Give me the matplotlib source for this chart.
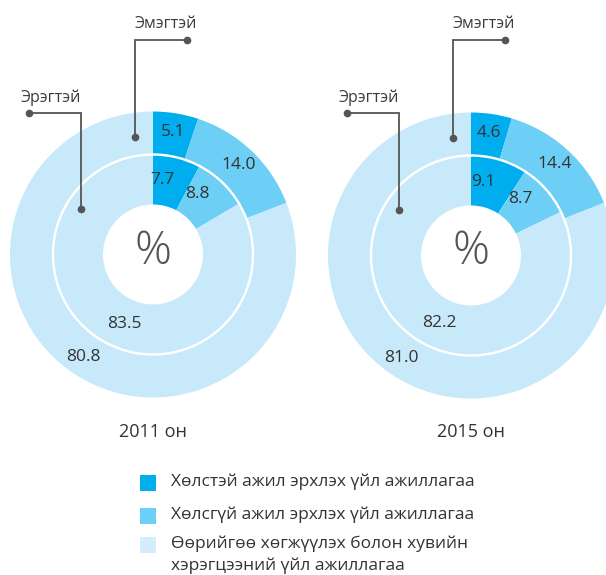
import matplotlib
matplotlib.use("Agg")
import matplotlib.pyplot as plt
from matplotlib.patches import Rectangle
import numpy as np

plt.rcParams['font.family'] = ['Open Sans', 'DejaVu Sans']

# Data
years = ["2011 он", "2015 он"]
female_2011 = [5.1, 14.0, 80.8]   # outer ring (Эмэгтэй)
male_2011 = [7.7, 8.8, 83.5]      # inner ring (Эрэгтэй)
female_2015 = [4.6, 14.4, 81.0]
male_2015 = [9.1, 8.7, 82.2]
ring_names = ["Эмэгтэй", "Эрэгтэй"]
categories = [
    "Хөлстэй ажил эрхлэх үйл ажиллагаа",
    "Хөлсгүй ажил эрхлэх үйл ажиллагаа",
    "Өөрийгөө хөгжүүлэх болон хувийн\nхэрэгцээний үйл ажиллагаа",
]

colors = ["#00aeef", "#6dcff6", "#c8e9f9"]
legend_colors = ["#00aeef", "#6dcff6", "#d4edfa"]
text_col = "#333333"
line_col = "#555555"

W, H = 606, 575
fig = plt.figure(figsize=(W / 100, H / 100), dpi=100)
ax = fig.add_axes([0, 0, 1, 1])


def py(y):
    """convert a top-down pixel row to the upward axes coordinate"""
    return H - y


R_OUT, R_SEP, R_HOLE = 143, 100, 50
donuts = [
    dict(center=(153, py(254.5)), outer=female_2011, inner=male_2011, title=years[0]),
    dict(center=(471, py(255.5)), outer=female_2015, inner=male_2015, title=years[1]),
]


def label_ring(wedges, values, cx, cy, r, shift=0.0):
    for w, v in zip(wedges, values):
        ang = np.deg2rad((w.theta1 + w.theta2) / 2 + shift)
        ax.text(cx + r * np.cos(ang), cy + r * np.sin(ang), f"{v:.1f}",
                ha="center", va="center", fontsize=12.5, color=text_col)


for d in donuts:
    cx, cy = d["center"]
    wo, _ = ax.pie(d["outer"], colors=colors, radius=R_OUT, center=(cx, cy),
                   startangle=90, counterclock=False,
                   wedgeprops=dict(width=R_OUT - R_SEP - 1.2, linewidth=0))
    wi, _ = ax.pie(d["inner"], colors=colors, radius=R_SEP - 1.2, center=(cx, cy),
                   startangle=90, counterclock=False,
                   wedgeprops=dict(width=R_SEP - 1.2 - R_HOLE, linewidth=0))
    label_ring(wo, d["outer"], cx, cy, 124)
    label_ring(wi, d["inner"], cx, cy, 75, shift=7)
    ax.text(cx, cy + 3, "%", ha="center", va="center", fontsize=33,
            fontweight="light", color="#555555")
    ax.text(cx, py(432), d["title"], ha="center", va="center",
            fontsize=13, color=text_col)

    # leader line for the outer ring (female)
    ox, oy = cx - 18, cy + 117.5
    top = py(39.5)
    ax.plot([ox, ox, ox + 52], [oy, top, top], color=line_col, lw=1.3,
            solid_joinstyle="miter")
    ax.plot([ox, ox + 52], [oy, top], "o", color=line_col, ms=4.5)
    ax.text(ox + 31, py(23.5), ring_names[0], ha="center", va="center",
            fontsize=11.5, color="#3c3c3c")
    # leader line for the inner ring (male)
    ix, iy = cx - 72, cy + 45.5
    top2 = py(112.5)
    ax.plot([ix, ix, ix - 52], [iy, top2, top2], color=line_col, lw=1.3,
            solid_joinstyle="miter")
    ax.plot([ix, ix - 52], [iy, top2], "o", color=line_col, ms=4.5)
    ax.text(ix - 30.5, py(98), ring_names[1], ha="center", va="center",
            fontsize=11.5, color="#3c3c3c")

# Legend
leg_y = [483, 516, 545]
for col, lab, y in zip(legend_colors, categories, leg_y):
    ax.add_patch(Rectangle((140, py(y + 8)), 16, 16, facecolor=col, edgecolor="none"))
    if "\n" in lab:
        ax.text(171, py(y - 9), lab, ha="left", va="top", fontsize=12.5,
                color=text_col, linespacing=1.38)
    else:
        ax.text(171, py(y - 1), lab, ha="left", va="center", fontsize=12.5,
                color=text_col)

ax.set_xlim(0, W)
ax.set_ylim(0, H)
ax.set_aspect("equal")
ax.axis("off")

fig.savefig("out.png", dpi=100, facecolor="white")
